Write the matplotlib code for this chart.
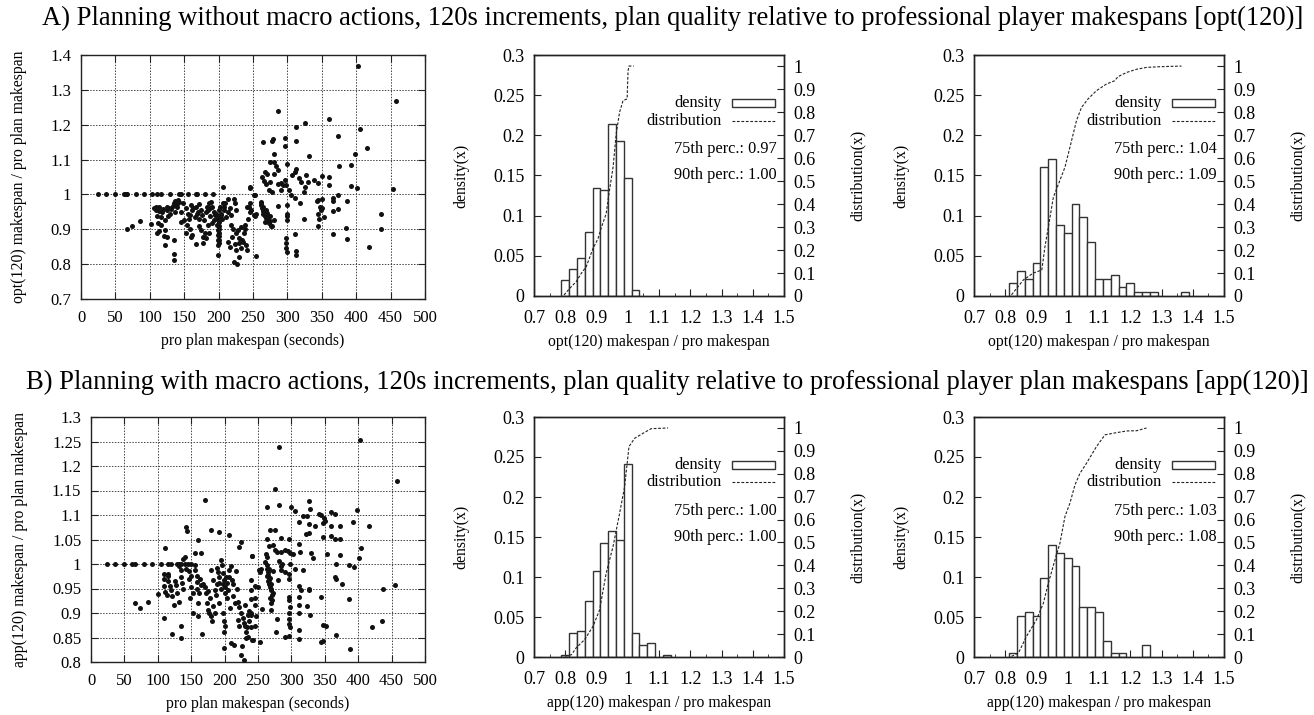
import matplotlib
matplotlib.use("Agg")
import matplotlib.pyplot as plt
from matplotlib.patches import Rectangle
from matplotlib.lines import Line2D
from matplotlib.ticker import MultipleLocator, FuncFormatter

plt.rcParams['font.family'] = ['Liberation Serif', 'DejaVu Serif']
plt.rcParams['font.size'] = 11

# ---------------- data ----------------
# A) scatter: pro plan makespan (s) vs opt(120)/pro ratio
opt_sec = [25, 37, 50, 62, 65, 67, 80, 92, 103, 110, 116, 130, 142, 145, 156, 167, 169, 180, 192,
           206, 245, 252, 67, 74, 86, 102,
           109.5, 109.5, 114, 114, 119, 111, 116, 110, 122, 125, 127, 130, 131, 133, 135, 137, 138, 140, 137,
           116, 122, 125, 122, 135, 135, 135, 112,
           148, 145, 150, 153, 155, 154, 160, 162, 165, 167, 170, 172, 174, 167, 162, 160, 175, 177, 179, 180,
           183, 185, 187, 182, 189, 191, 193, 190, 184, 194, 196, 198, 199, 199, 199, 199, 199, 201, 201, 202,
           203, 206, 208, 211, 213, 216, 213, 216, 218, 220, 223, 224, 225, 224, 225, 228, 229, 223, 227, 230,
           233, 237, 240, 242, 245, 247, 252, 254, 235,
           141, 143, 139, 157, 158, 163, 168, 171, 176, 181, 186, 188, 195, 197, 200, 200, 200, 200, 200, 200,
           200, 204, 205, 208, 210, 214, 218, 221, 226, 230, 232, 234, 238, 241, 243, 125, 128, 118, 106, 113,
           120, 145, 152, 158, 172, 178, 186,
           402, 458, 287, 360, 325, 313, 405, 373, 264, 277, 279, 296, 296, 312, 416, 281, 398, 332, 274, 281,
           284, 287, 300, 375, 393, 268, 271, 280, 313, 311, 307, 263, 266, 275, 269, 286, 290, 296, 293, 298,
           317, 320, 327, 330, 338, 345, 350, 360, 361, 392, 401, 454, 273, 278, 291, 303, 305, 311, 318, 324,
           326, 345, 350, 366, 367, 373, 386, 246, 253, 286, 299, 324, 343, 347, 351, 345, 346, 353, 349, 367,
           373, 345, 385, 367, 386, 436, 436, 419, 311, 298, 298, 298, 300, 312, 312, 299, 300, 299,
           261, 262, 263, 265, 266, 268, 269, 271, 273, 276, 269, 271, 274, 280, 255, 253, 277, 244, 246, 239,
           264, 267, 270, 272, 262, 265, 268, 275]
opt_ratio = [1.0] * 19 + [
           1.02, 1.02, 0.997, 0.90, 0.91, 0.923, 0.915,
           0.965, 0.955, 0.963, 0.953, 0.959, 0.938, 0.936, 0.888, 0.926, 0.955, 0.938, 0.945, 0.959, 0.966,
           0.976, 0.982, 0.969, 0.963, 0.949,
           0.912, 0.898, 0.878, 0.855, 0.869, 0.83, 0.813, 0.917,
           0.974, 0.95, 0.926, 0.96, 0.945, 0.912, 0.969, 0.955, 0.936, 0.965, 0.95, 0.972, 0.955, 0.859,
           0.883, 0.878, 0.898, 0.878, 0.926, 0.888,
           0.965, 0.955, 0.938, 0.874, 0.979, 0.965, 0.95, 0.917, 0.912, 0.926, 0.944, 0.912, 0.898, 0.883,
           0.869, 0.855, 0.826, 0.955, 0.934, 0.965,
           0.945, 0.974, 0.955, 0.936, 0.986, 0.96, 0.864, 0.85, 0.912, 0.878, 0.986, 0.974, 0.955, 0.859,
           0.84, 0.898, 0.874, 0.807, 0.8, 0.821,
           0.907, 0.888, 0.855, 0.965, 0.976, 0.955, 0.941, 0.823, 0.864,
           0.985, 0.978, 0.972, 0.93, 0.94, 0.96, 0.945, 0.93, 0.94, 0.95, 0.975, 0.96, 0.94, 0.93, 0.92,
           0.91, 0.9, 0.89, 0.88, 0.87,
           0.86, 0.94, 0.93, 0.965, 0.975, 0.95, 0.94, 0.9, 0.89, 0.86, 0.845, 0.87, 0.9, 0.84, 0.93, 0.965,
           0.96, 0.95, 0.96, 0.895,
           0.88, 0.92, 0.89, 0.9, 0.91, 0.86, 0.89,
           1.368, 1.269, 1.24, 1.217, 1.204, 1.194, 1.188, 1.169, 1.149, 1.154, 1.158, 1.161, 1.139, 1.153,
           1.133, 1.117, 1.116, 1.109, 1.094, 1.092,
           1.081, 1.07, 1.086, 1.081, 1.083, 1.065, 1.06, 1.06, 1.073, 1.063, 1.056, 1.049, 1.039, 1.037,
           1.029, 1.029, 1.034, 1.041, 1.027, 1.027,
           1.046, 1.035, 1.056, 1.037, 1.041, 1.033, 1.052, 1.051, 1.027, 1.024, 1.018, 1.017, 1.013, 1.006,
           1.013, 1.013, 0.998, 0.989, 0.976, 1.008,
           1.022, 0.984, 0.987, 0.991, 0.982, 0.998, 0.982, 1.019, 0.998, 0.968, 0.97, 0.929, 0.982, 0.964,
           0.96, 0.944, 0.929, 0.936, 0.954, 0.953,
           0.957, 0.91, 0.905, 0.886, 0.872, 0.945, 0.9, 0.85, 0.887, 0.876, 0.86, 0.847, 0.836, 0.838,
           0.826, 0.943, 0.927, 0.939,
           0.979, 0.97, 0.96, 0.952, 0.946, 0.938, 0.931, 0.925, 0.917, 0.91, 0.955, 0.946, 0.939, 0.927,
           0.943, 0.938, 0.909, 0.965, 0.951, 0.912,
           0.965, 0.95, 0.94, 0.93, 0.975, 0.945, 0.92, 0.925]

# B) scatter: pro plan makespan (s) vs app(120)/pro ratio
app_sec = [24, 36, 50, 61, 66, 79, 91, 105, 116, 120, 129, 132, 134, 140, 145, 150,
           170, 142, 144, 180, 192, 206, 160, 111, 224, 222, 241, 254,
           109, 109, 116, 116, 109, 101, 111, 114, 120, 122, 127, 134, 135, 136, 137, 140, 124, 131, 109, 121,
           134, 135, 66, 73, 86,
           147, 149, 152, 155, 156, 159, 159, 156, 164, 152, 160, 166, 162, 165, 170, 172, 174, 175, 177, 179,
           181, 180, 182, 185, 187, 189, 190, 191, 192, 192, 195, 196, 198, 199, 200, 201, 197, 199, 200, 199,
           199, 202, 204, 205, 206, 207, 210, 211, 212, 215, 217, 220, 222, 225, 227, 229, 230, 232, 235, 220,
           222, 210, 214, 226, 225, 229, 232, 242, 245, 247, 245, 250, 240, 239, 235, 237,
           142, 146, 150, 158, 163, 168, 175, 178, 183, 186, 188, 194, 197, 203, 208, 213, 218, 160, 148, 138,
           128, 125, 131, 115, 118,
           402, 282, 458, 276, 263, 282, 299, 306, 326, 328, 398, 360, 366, 318, 324, 342, 344, 349, 350, 312,
           327, 336, 347, 360, 373, 392, 416, 268, 275, 322, 327, 347, 360, 366, 373, 285, 296, 264, 267, 273,
           275, 278, 285, 290, 295, 298, 303, 311, 313, 329, 333, 353, 373, 404, 401, 386, 393, 241, 262, 263,
           261, 263, 263, 265, 265, 266, 267, 268, 270, 271, 271, 252, 253, 268, 272, 280, 285, 285, 282, 286,
           291, 296, 297, 298, 305, 317, 367, 366, 367, 376, 386, 437, 455, 239, 245, 240, 246, 256, 237, 240,
           231, 233, 240, 241, 253, 296, 297, 298, 297, 297, 297, 298, 296, 291, 279, 277, 269, 311, 312, 311,
           312, 311, 312, 315, 326, 327, 324, 328, 345, 347, 352, 345, 348, 367, 387, 420, 436,
           264, 266, 269, 270, 272, 268, 265, 270]
app_ratio = [1.0] * 16 + [
           1.13, 1.076, 1.067, 1.069, 1.066, 1.059, 1.049, 1.033, 1.045, 1.035, 1.016, 0.99,
           0.98, 0.97, 0.975, 0.965, 0.955, 0.939, 0.942, 0.936, 0.947, 0.934, 0.958, 0.988, 0.974, 0.961,
           1.01, 1.014, 0.917, 0.923, 0.89, 0.858,
           0.849, 0.873, 0.921, 0.911, 0.923,
           0.969, 0.954, 0.94, 0.998, 0.988, 0.975, 0.964, 1.022, 1.022, 0.9, 0.893, 0.858, 0.94, 0.957,
           0.954, 0.94, 0.92, 0.907, 0.9, 0.893,
           0.883, 0.988, 0.967, 0.947, 0.937, 0.991, 0.984, 0.974, 0.961, 0.92, 1.008, 0.998, 0.981, 0.968,
           0.954, 0.94, 0.9, 0.883, 0.873, 0.862,
           0.828, 0.974, 0.961, 0.947, 0.988, 0.974, 0.995, 0.967, 0.934, 0.92, 0.985, 0.923, 0.913, 0.9,
           0.89, 0.879, 0.873, 0.862, 0.852, 0.886,
           0.873, 0.839, 0.835, 0.832, 0.815, 0.805, 0.849, 0.845, 0.873, 0.893, 0.93, 0.954, 0.968, 0.9,
           0.896, 0.883,
           0.99, 0.985, 0.975, 0.95, 0.97, 0.96, 0.945, 0.93, 0.915, 0.9, 0.96, 0.95, 0.96, 0.93, 0.91, 0.96,
           0.95, 0.92, 0.93, 0.95,
           0.94, 0.965, 0.995, 0.98, 0.955,
           1.254, 1.239, 1.169, 1.153, 1.116, 1.12, 1.116, 1.109, 1.129, 1.112, 1.11, 1.107, 1.103, 1.098,
           1.098, 1.103, 1.099, 1.093, 1.087, 1.085,
           1.082, 1.077, 1.084, 1.078, 1.077, 1.085, 1.078, 1.069, 1.069, 1.061, 1.063, 1.056, 1.058, 1.051,
           1.051, 1.053, 1.051, 1.052, 1.036, 1.039,
           1.029, 1.024, 1.025, 1.028, 1.026, 1.022, 1.021, 1.041, 1.024, 1.022, 1.012, 1.02, 1.019, 1.033,
           1.012, 0.998, 0.994, 1.017, 1.021, 1.014,
           1.004, 0.997, 0.99, 0.984, 0.977, 0.967, 0.96, 0.953, 0.946, 0.936, 0.927, 0.988, 0.984, 0.971,
           0.986, 0.968, 0.995, 0.988, 1.007, 1.001,
           0.984, 0.98, 0.97, 1.001, 0.99, 0.987, 1.001, 0.973, 0.969, 0.96, 0.929, 0.95, 0.958, 0.946,
           0.956, 0.929, 0.916, 0.909, 0.905, 0.895,
           0.916, 0.871, 0.871, 0.844, 0.841, 0.933, 0.926, 0.912, 0.899, 0.888, 0.878, 0.871, 0.854, 0.851,
           0.888, 0.861, 0.907, 0.956, 0.933, 0.916,
           0.9, 0.865, 0.846, 0.946, 0.95, 0.946, 0.914, 0.895, 0.933, 0.875, 0.873, 0.841, 0.843, 0.856,
           0.827, 0.871, 0.883,
           0.975, 0.99, 0.96, 0.95, 0.94, 0.93, 0.965, 0.92]

# histograms (bin centres, bin width 0.025, fraction of plans)
opt1_bins = [0.8, 0.825, 0.85, 0.875, 0.9, 0.925, 0.95, 0.975, 1.0, 1.025]
opt1_dens = [0.0195, 0.034, 0.047, 0.080, 0.135, 0.132, 0.214, 0.193, 0.147, 0.007]
opt1_cdf_x = [0.796, 0.814, 0.835, 0.851, 0.867, 0.889, 0.905, 0.916, 0.931, 0.94, 0.953, 0.963,
              0.974, 0.985, 0.998, 1.001, 1.004, 1.019]
opt1_cdf_y = [0.004, 0.033, 0.062, 0.098, 0.127, 0.207, 0.25, 0.30, 0.358, 0.446, 0.56, 0.705,
              0.80, 0.85, 0.857, 0.98, 1.0, 1.0]

opt2_bins = [0.825, 0.85, 0.875, 0.9, 0.925, 0.95, 0.975, 1.0, 1.025, 1.05, 1.075, 1.1, 1.125,
             1.15, 1.175, 1.2, 1.225, 1.25, 1.275, 1.375]
opt2_dens = [0.016, 0.031, 0.021, 0.041, 0.160, 0.171, 0.088, 0.078, 0.114, 0.098, 0.067, 0.021,
             0.021, 0.026, 0.011, 0.016, 0.005, 0.005, 0.005, 0.005]
opt2_cdf_x = [0.82, 0.858, 0.89, 0.917, 0.927, 0.938, 0.954, 0.975, 0.991, 1.007, 1.028, 1.044,
              1.065, 1.092, 1.124, 1.15, 1.161, 1.188, 1.22, 1.252, 1.294, 1.364]
opt2_cdf_y = [0.005, 0.07, 0.10, 0.113, 0.214, 0.30, 0.43, 0.503, 0.56, 0.647, 0.763, 0.82,
              0.857, 0.893, 0.922, 0.936, 0.954, 0.972, 0.986, 0.994, 0.997, 1.0]

app1_bins = [0.8, 0.825, 0.85, 0.875, 0.9, 0.925, 0.95, 0.975, 1.0, 1.025, 1.05, 1.075, 1.125]
app1_dens = [0.002, 0.030, 0.033, 0.070, 0.107, 0.143, 0.158, 0.146, 0.241, 0.030, 0.015, 0.0175, 0.002]
app1_cdf_x = [0.80, 0.82, 0.835, 0.862, 0.889, 0.91, 0.931, 0.953, 0.974, 0.99, 1.004, 1.022,
              1.049, 1.075, 1.129]
app1_cdf_y = [0.003, 0.01, 0.04, 0.076, 0.134, 0.206, 0.366, 0.483, 0.628, 0.744, 0.919, 0.955,
              0.977, 0.997, 1.0]

app2_bins = [0.825, 0.85, 0.875, 0.9, 0.925, 0.95, 0.975, 1.0, 1.025, 1.05, 1.075, 1.1, 1.125,
             1.15, 1.175, 1.25]
app2_dens = [0.0045, 0.0515, 0.0565, 0.0515, 0.0985, 0.1396, 0.130, 0.124, 0.114, 0.062, 0.062,
             0.0565, 0.0204, 0.0045, 0.0045, 0.015]
app2_cdf_x = [0.82, 0.842, 0.868, 0.90, 0.922, 0.938, 0.959, 0.975, 0.991, 1.007, 1.023, 1.039,
              1.06, 1.092, 1.119, 1.145, 1.188, 1.22, 1.252]
app2_cdf_y = [0.003, 0.017, 0.09, 0.163, 0.235, 0.323, 0.424, 0.497, 0.613, 0.672, 0.751, 0.802,
              0.846, 0.919, 0.97, 0.977, 0.987, 0.988, 1.0]

perc_labels = [("0.97", "1.00"), ("1.04", "1.09"), ("1.00", "1.00"), ("1.03", "1.08")]

titles = ["A) Planning without macro actions, 120s increments, plan quality relative to "
          "professional player makespans [opt(120)]",
          "B) Planning with macro actions, 120s increments, plan quality relative to "
          "professional player plan makespans [app(120)]"]

INK = "#222222"
W, H = 1314, 715


def px_axes(fig, left, right, top, bottom):
    return fig.add_axes([left / W, 1 - bottom / H, (right - left) / W, (bottom - top) / H])


def gfmt(v, _):
    return "%g" % round(v, 3)


def style(ax, size):
    for s in ax.spines.values():
        s.set_color(INK)
        s.set_linewidth(1.0)
    ax.tick_params(direction="in", length=5, width=0.8, colors=INK, labelcolor="black",
                   labelsize=size, pad=7)


def scatter_panel(ax, xs, ys, ylo, yhi, ystep, ylabel):
    ax.scatter(xs, ys, s=13, color="#111111", linewidths=0, zorder=3)
    ax.set_xlim(0, 500)
    ax.set_ylim(ylo, yhi)
    ax.xaxis.set_major_locator(MultipleLocator(50))
    ax.yaxis.set_major_locator(MultipleLocator(ystep))
    ax.yaxis.set_major_formatter(FuncFormatter(gfmt))
    ax.grid(True, color="#444444", ls=(0, (1.5, 1.5)), lw=0.7)
    style(ax, 12)
    ax.tick_params(top=True, right=True)
    ax.tick_params(axis="x", pad=8)
    ax.set_xlabel("pro plan makespan (seconds)", fontsize=11.3, labelpad=5)
    ax.set_ylabel(ylabel, fontsize=11.3, labelpad=17)


def hist_panel(ax, bins, dens, cx, cy, xlabel, percs):
    ax.bar(bins, dens, width=0.025, color="white", edgecolor="#333333", lw=1.0, zorder=2)
    ax.set_xlim(0.7, 1.5)
    ax.set_ylim(0, 0.3)
    ax.xaxis.set_major_locator(MultipleLocator(0.1))
    ax.xaxis.set_minor_locator(MultipleLocator(0.05))
    ax.yaxis.set_major_locator(MultipleLocator(0.05))
    ax.xaxis.set_major_formatter(FuncFormatter(gfmt))
    ax.yaxis.set_major_formatter(FuncFormatter(gfmt))
    style(ax, 13)
    ax.tick_params(axis="x", pad=10)
    ax.tick_params(which="minor", direction="in", length=2.5, width=0.6, colors=INK)
    ax.set_xlabel(xlabel, fontsize=11.3, labelpad=5)
    ax.set_ylabel("density(x)", fontsize=11.3, labelpad=17)

    ax2 = ax.twinx()
    ax2.plot(cx, cy, color=INK, lw=0.8, ls=(0, (2.5, 1.5)))
    ax2.set_ylim(0, 1.048)
    ax2.yaxis.set_major_locator(MultipleLocator(0.1))
    ax2.yaxis.set_major_formatter(FuncFormatter(gfmt))
    style(ax2, 13)
    ax2.set_ylabel("distribution(x)", fontsize=11.3, labelpad=24)

    # legend drawn gnuplot style: text right-aligned, sample to the right
    ax.text(0.752, 0.80, "density", transform=ax.transAxes, ha="right", va="center", fontsize=11.7)
    ax.add_patch(Rectangle((0.792, 0.783), 0.172, 0.034, transform=ax.transAxes,
                           facecolor="white", edgecolor="#333333", lw=1.0))
    ax.text(0.752, 0.728, "distribution", transform=ax.transAxes, ha="right", va="center",
            fontsize=11.7)
    ax.add_line(Line2D([0.792, 0.964], [0.728, 0.728], transform=ax.transAxes, color=INK,
                       lw=0.8, ls=(0, (2.5, 1.5))))
    ax.text(0.972, 0.61, "75th perc.: " + percs[0], transform=ax.transAxes, ha="right",
            va="center", fontsize=11.7)
    ax.text(0.972, 0.502, "90th perc.: " + percs[1], transform=ax.transAxes, ha="right",
            va="center", fontsize=11.7)


fig = plt.figure(figsize=(W / 100, H / 100), dpi=100)

fig.text(0.5116, 1 - 18 / H, titles[0], ha="center", va="center", fontsize=19.2)
fig.text(0.508, 1 - 382 / H, titles[1], ha="center", va="center", fontsize=19.2)

axA = px_axes(fig, 81, 425, 55, 299)
scatter_panel(axA, opt_sec, opt_ratio, 0.7, 1.4, 0.1, "opt(120) makespan / pro plan makespan")
axA1 = px_axes(fig, 534, 784, 55, 296)
hist_panel(axA1, opt1_bins, opt1_dens, opt1_cdf_x, opt1_cdf_y,
           "opt(120) makespan / pro makespan", perc_labels[0])
axA2 = px_axes(fig, 974, 1224, 55, 296)
hist_panel(axA2, opt2_bins, opt2_dens, opt2_cdf_x, opt2_cdf_y,
           "opt(120) makespan / pro makespan", perc_labels[1])

axB = px_axes(fig, 91, 425, 417, 662)
scatter_panel(axB, app_sec, app_ratio, 0.8, 1.3, 0.05, "app(120) makespan / pro plan makespan")
axB1 = px_axes(fig, 534, 784, 417, 657)
hist_panel(axB1, app1_bins, app1_dens, app1_cdf_x, app1_cdf_y,
           "app(120) makespan / pro makespan", perc_labels[2])
axB2 = px_axes(fig, 974, 1224, 417, 657)
hist_panel(axB2, app2_bins, app2_dens, app2_cdf_x, app2_cdf_y,
           "app(120) makespan / pro makespan", perc_labels[3])

fig.savefig("out.png", dpi=100)
